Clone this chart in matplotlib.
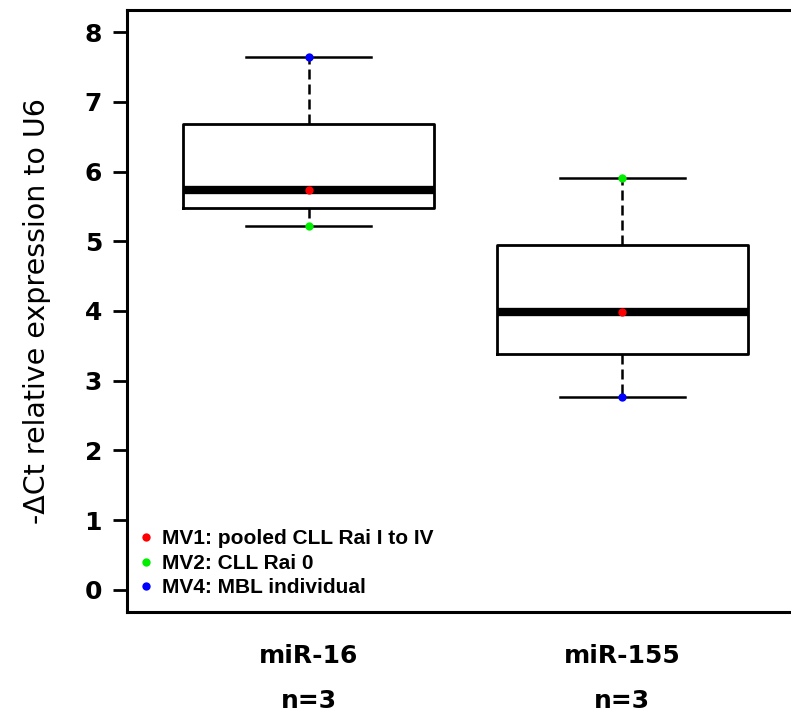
import matplotlib
matplotlib.use("Agg")
import matplotlib.pyplot as plt
from matplotlib.lines import Line2D

categories = ["miR-16", "miR-155"]
n_labels = ["n=3", "n=3"]
# values per sample: MV1 (red), MV2 (green), MV4 (blue)
mir16 = [5.73, 5.22, 7.64]
mir155 = [3.99, 5.91, 2.77]
sample_names = ["MV1: pooled CLL Rai I to IV", "MV2: CLL Rai 0", "MV4: MBL individual"]
sample_colors = ["#ff0000", "#00ee00", "#0000ff"]

plt.rcParams['font.family'] = ['DejaVu Sans']

W, H = 791, 713
fig = plt.figure(figsize=(W / 100, H / 100), dpi=100)
left, right, top, bottom = 127, 804, 10, 612
ax = fig.add_axes([left / W, 1 - bottom / H, (right - left) / W, (bottom - top) / H])

data = [mir16, mir155]
positions = [1, 2]
ax.boxplot(data, positions=positions, widths=0.8, whis=(0, 100),
           showfliers=False, patch_artist=False,
           boxprops=dict(color='black', linewidth=2),
           medianprops=dict(color='black', linewidth=6, solid_capstyle='butt'),
           whiskerprops=dict(color='black', linewidth=1.8, linestyle=(0, (4, 2))),
           capprops=dict(color='black', linewidth=1.8),
           capwidths=0.4)

for pos, vals in zip(positions, data):
    for v, c in zip(vals, sample_colors):
        ax.plot(pos, v, 'o', color=c, markersize=6, zorder=5, markeredgewidth=0)

ax.set_xlim(0.42, 2.58)
ax.set_ylim(-0.32, 8.32)
ax.set_yticks(range(0, 9))
ax.set_yticklabels([str(i) for i in range(0, 9)], fontsize=18, fontweight='bold')
ax.tick_params(axis='y', length=10, width=2, pad=8, direction='out')
ax.set_xticks([])
for s in ax.spines.values():
    s.set_linewidth(2.2)

fig.text(37 / W, 1 - 311 / H, "-\u0394Ct relative expression to U6", fontsize=20.5,
         rotation=90, ha='center', va='center')

for pos, cat, nl in zip(positions, categories, n_labels):
    ax.annotate(cat, xy=(pos, 0), xycoords=('data', 'axes fraction'),
                xytext=(0, -36.7), textcoords='offset points', ha='center', va='baseline',
                fontsize=18, fontweight='bold')
    ax.annotate(nl, xy=(pos, 0), xycoords=('data', 'axes fraction'),
                xytext=(0, -69), textcoords='offset points', ha='center', va='baseline',
                fontsize=18, fontweight='bold')

handles = [Line2D([], [], marker='o', linestyle='none', color=c, markersize=6,
                  markeredgewidth=0) for c in sample_colors]
leg = ax.legend(handles, sample_names, loc='lower left', frameon=False,
                prop=dict(family='Liberation Sans', size=15, weight='bold'),
                handletextpad=0.25, labelspacing=0.27, borderaxespad=0.2,
                handlelength=1.0, borderpad=0.5,
                bbox_to_anchor=(-0.009, 0.0))

fig.savefig("out.png", dpi=100)
